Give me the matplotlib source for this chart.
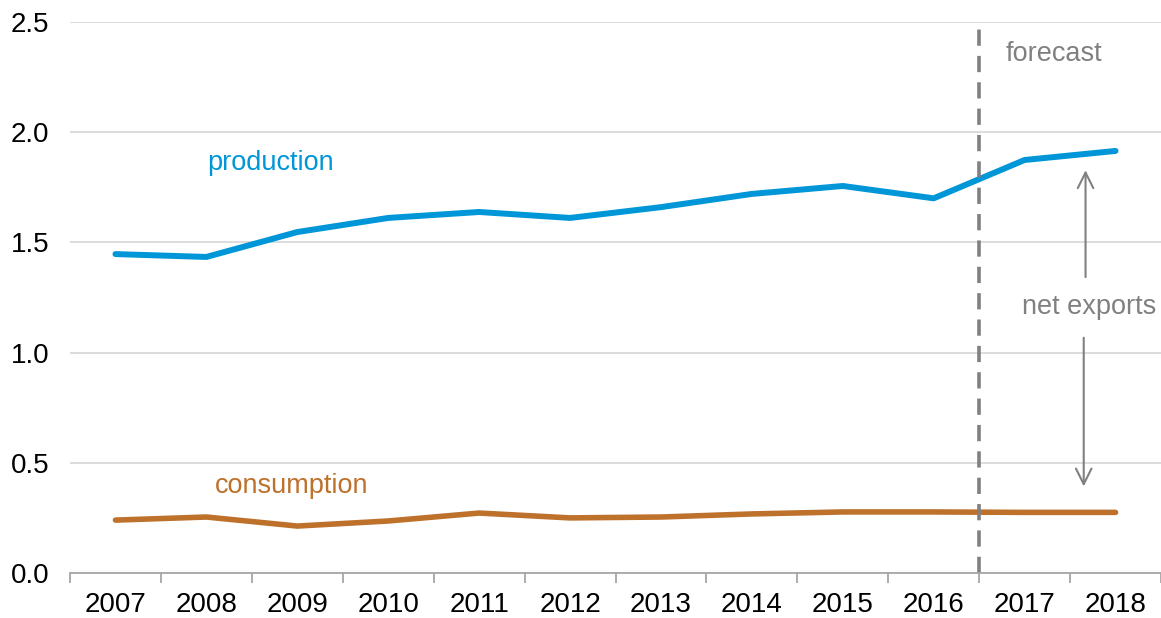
import matplotlib
import matplotlib.pyplot as plt
import numpy as np

matplotlib.use('Agg')
plt.rcParams['font.family'] = ['Liberation Sans', 'DejaVu Sans']

# 数据
years = ['2007', '2008', '2009', '2010', '2011', '2012',
         '2013', '2014', '2015', '2016', '2017', '2018']
production = [1.447, 1.434, 1.547, 1.611, 1.638, 1.611,
              1.660, 1.720, 1.756, 1.700, 1.874, 1.915]
consumption = [0.240, 0.254, 0.213, 0.236, 0.272, 0.250,
               0.254, 0.268, 0.277, 0.277, 0.275, 0.275]
forecast_start = 9.5

blue = '#0096D7'
brown = '#BD712B'
gray = '#808080'

fig = plt.figure(figsize=(11.61, 6.18), dpi=100)
ax = fig.add_axes([70 / 1161, 1 - 573 / 618, 1091 / 1161, 551 / 618])

x = np.arange(len(years))
ax.plot(x, production, color=blue, lw=4.3, solid_capstyle='round')
ax.plot(x, consumption, color=brown, lw=4.0, solid_capstyle='round')

ax.set_xlim(-0.5, len(years) - 0.5)
ax.set_ylim(0, 2.5)

# 网格和坐标轴
ax.set_yticks(np.arange(0, 2.51, 0.5))
ax.set_yticklabels([f'{v:.1f}' for v in np.arange(0, 2.51, 0.5)])
ax.yaxis.grid(True, color='#D9D9D9', lw=1.3)
ax.set_axisbelow(True)
for s in ['top', 'right', 'left']:
    ax.spines[s].set_visible(False)
ax.spines['bottom'].set_color('#A6A6A6')
ax.spines['bottom'].set_linewidth(1.3)

ax.set_xticks(x)
ax.set_xticklabels(years)
ax.set_xticks(np.arange(-0.5, len(years)), minor=True)
ax.tick_params(axis='x', which='major', length=0, pad=14, labelsize=20)
ax.tick_params(axis='x', which='minor', length=7, width=1.3, color='#A6A6A6')
ax.tick_params(axis='y', length=0, pad=15, labelsize=20)

# 预测分隔线
ax.axvline(forecast_start, ymin=0, ymax=0.99, color=gray, lw=2.6, ls=(0, (4.5, 2.8)))
ax.text(10.32, 2.355, 'forecast', color=gray, fontsize=19.5, ha='center', va='center')

# 标签
ax.text(1.71, 1.86, 'production', color=blue, fontsize=19.5, ha='center', va='center')
ax.text(1.94, 0.395, 'consumption', color=brown, fontsize=19.5, ha='center', va='center')

# 净出口箭头
ax.text(10.71, 1.205, 'net exports', color=gray, fontsize=19.5, ha='center', va='center')
ax.annotate('', xy=(10.67, 1.84), xytext=(10.67, 1.33),
            arrowprops=dict(arrowstyle='->', color=gray, lw=1.5, mutation_scale=28))
ax.annotate('', xy=(10.65, 0.38), xytext=(10.65, 1.08),
            arrowprops=dict(arrowstyle='->', color=gray, lw=1.5, mutation_scale=28))

plt.savefig('out.png', dpi=100)
